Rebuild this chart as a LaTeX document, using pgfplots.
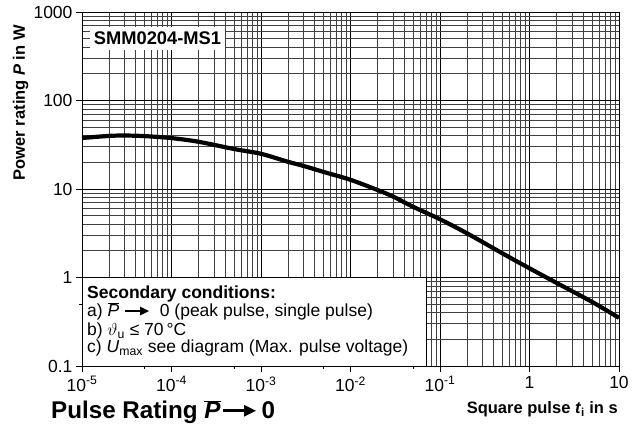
\documentclass[border=0pt]{standalone}
\usepackage{pgfplots}
\pgfplotsset{compat=1.18}
\usepackage{fontspec}
\setmainfont{Liberation Sans}
\usetikzlibrary{arrows.meta}
\newcommand{\Pbar}{\ensuremath{\overline{\mbox{\textit{P}}}}}
\newcommand{\Arr}[3]{\tikz[baseline=0pt]\draw[line width=#2,-{Triangle[length=#3,width=#3*0.9]}] (0,0.34em)--(#1,0.34em);}
\begin{document}
\begin{tikzpicture}
\useasboundingbox (-82pt,-67pt) rectangle (555pt,366pt);
\begin{axis}[
  at={(0,0)}, anchor=south west,
  scale only axis, width=537pt, height=354pt,
  xmode=log, ymode=log,
  xmin=1e-5, xmax=10, ymin=0.1, ymax=1000,
  xtick={1e-5,1e-4,1e-3,1e-2,1e-1,1,10},
  xticklabels={10\textsuperscript{-5},10\textsuperscript{-4},10\textsuperscript{-3},10\textsuperscript{-2},10\textsuperscript{-1},1,10},
  ytick={0.1,1,10,100,1000},
  yticklabels={0.1,1,10,100,1000},
  extra x ticks={5e-5,5e-4,5e-3,5e-2},
  extra x tick labels={},
  extra y ticks={0.5},
  extra y tick labels={},
  extra tick style={grid=none, major tick length=3pt},
  grid=both,
  major grid style={black, line width=0.8pt},
  minor grid style={black!75, line width=0.8pt},
  axis line style={black, line width=0.8pt},
  tick style={black, line width=0.8pt},
  tick align=outside, major tick length=6pt, minor tick length=0pt,
  tick pos=left,
  tick label style={font=\fontsize{17.5}{19}\selectfont},
  xticklabel style={yshift=-1pt},
]
\draw[fill=white, draw=black, line width=0.8pt] (axis cs:1e-5,0.1) rectangle (axis cs:0.07,1);
\node[fill=white, inner xsep=4pt, inner ysep=0pt, minimum height=23pt, font=\bfseries\fontsize{18.3}{20}\selectfont] at (axis cs:6.98e-5,501) {SMM0204-MS1};
\addplot[black, line width=4.2pt, smooth] coordinates {
(1e-5,37.7) (2e-5,39.8) (3e-5,40.2) (5e-5,39.6) (1e-4,37.6) (2e-4,34.2)
(5e-4,28.3) (1e-3,25.0) (2e-3,20.3) (3e-3,18.2) (5e-3,15.6) (1e-2,12.7)
(2e-2,9.75) (3e-2,8.2) (5e-2,6.3) (1e-1,4.55) (2e-1,3.16) (5e-1,1.87)
(1,1.27) (2,0.87) (5,0.53) (10,0.35)};
\end{axis}
\node[rotate=90, anchor=base east, font=\bfseries\fontsize{16.5}{18}\selectfont, inner sep=0pt] at (-57pt,341pt) {Power rating \textit{P} in W};
\node[anchor=base east, font=\bfseries\fontsize{16.5}{18}\selectfont, inner sep=0pt] at (536pt,-48pt) {Square pulse \textit{t}\textsubscript{i} in s};
\node[anchor=base west, font=\bfseries\fontsize{24.2}{28}\selectfont, inner sep=0pt] at (-31pt,-53pt) {Pulse Rating \Pbar\hspace{1pt}\Arr{33pt}{3pt}{12pt}\hspace{4pt}0};
\begin{scope}[every node/.style={anchor=base west, inner sep=0pt, font=\fontsize{17.5}{20}\selectfont}]
\node at (5pt,67pt) {\bfseries Secondary conditions:};
\node at (5pt,49pt) {a) \Pbar\ \Arr{24pt}{2pt}{9pt}\ \ 0 (peak pulse, single pulse)};
\node at (5pt,30pt) {b) $\vartheta$\textsubscript{u} ≤ 70\,°C};
\node at (5pt,13pt) {c) \textit{U}\textsubscript{max} see diagram (Max. pulse voltage)};
\end{scope}
\end{tikzpicture}
\end{document}
